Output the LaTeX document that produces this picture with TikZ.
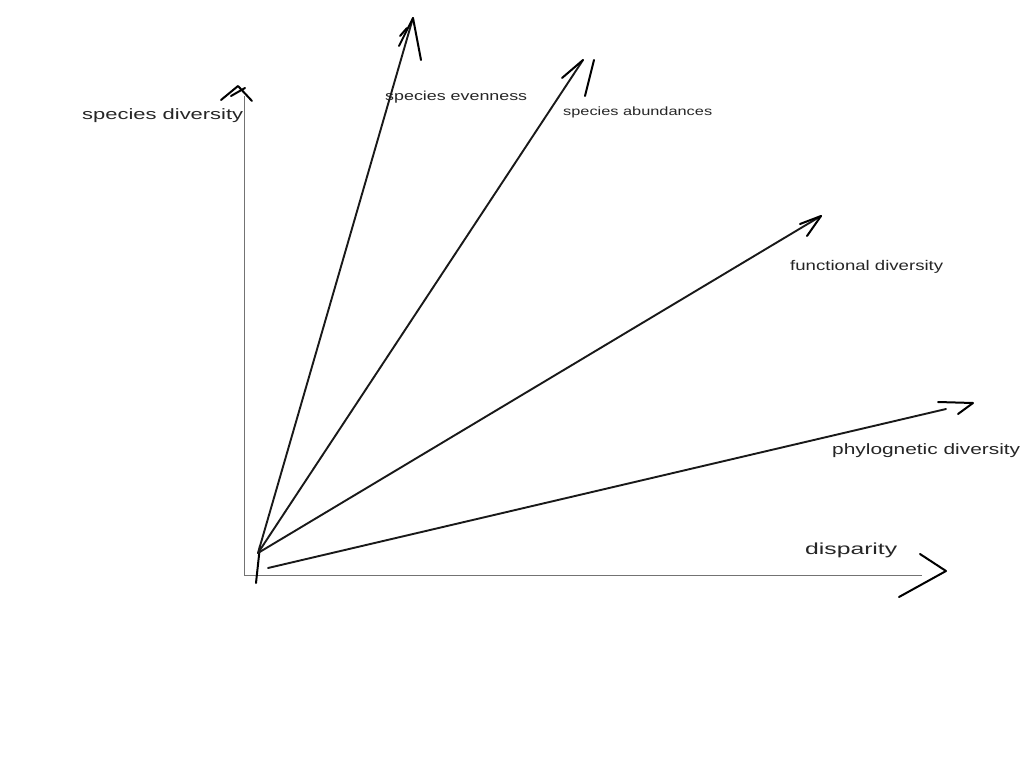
\documentclass[tikz,border=0pt]{standalone}
\usepackage{fontspec}
\setmainfont{Liberation Sans}
\usepackage{graphicx}
\newcommand{\lbl}[3]{{\fontsize{#2}{#2}\selectfont\resizebox{#1}{\height}{#3}}}
\begin{document}
\begin{tikzpicture}[x=1pt,y=-1pt,
  axis/.style={draw=black!55,line width=1pt},
  shaft/.style={draw=black!90,line width=1.9pt,line cap=round},
  tip/.style={draw=black,line width=2pt,line cap=round,line join=round},
  lab/.style={anchor=base west,inner sep=0pt,text=black!85}]
\useasboundingbox[fill=white] (0,0) rectangle (1022,771);
% key points
\coordinate (O) at (258,553);
\coordinate (O2) at (268,568);
\coordinate (Ytop) at (244,96);
\coordinate (Ybot) at (244,575);
\coordinate (Xend) at (922,575);
\coordinate (Ev) at (413,18);
\coordinate (Ab) at (583,60);
\coordinate (Fu) at (821,216);
\coordinate (Ph) at (946,409);
% axes
\draw[axis] (Ytop) -- (Ybot) -- (Xend);
% axis heads
\draw[tip] (221,100) -- (238,86) -- (252,101);
\draw[tip] (231,96) -- (245,88);
\draw[tip] (920,554) -- (946,571) -- (899,597);
% origin mark
\draw[tip] (260,546) -- (256,583);
% shafts
\draw[shaft] (O) -- (Ev);
\draw[shaft] (O) -- (Ab);
\draw[shaft] (O) -- (Fu);
\draw[shaft] (O2) -- (Ph);
% heads
\draw[tip] (399,46) -- (Ev) -- (421,60);
\draw[tip] (400,36) -- (407,28);
\draw[tip] (562,78) -- (Ab);
\draw[tip] (594,60) -- (585,96);
\draw[tip] (800,224) -- (Fu) -- (807,236);
\draw[tip] (938,402) -- (973,403) -- (958,414);
% labels
\node[lab] (sd) at (82,119) {\lbl{161pt}{15pt}{species diversity}};
\node[lab] (se) at (385,100) {\lbl{142pt}{13pt}{species evenness}};
\node[lab] (sa) at (563,115) {\lbl{149pt}{12pt}{species abundances}};
\node[lab] (fd) at (790,270) {\lbl{153pt}{14pt}{functional diversity}};
\node[lab] (pd) at (832,454) {\lbl{188pt}{15pt}{phylognetic diversity}};
\node[lab] (di) at (805,554) {\lbl{92pt}{16pt}{disparity}};
\end{tikzpicture}
\end{document}
